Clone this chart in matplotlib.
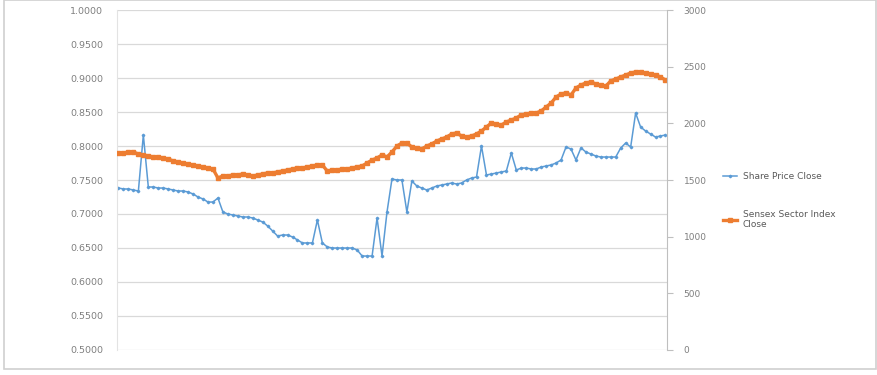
import numpy as np
import matplotlib.pyplot as plt
from matplotlib.patches import Rectangle

# share price close (left axis)
share_close = [
    0.7382, 0.7368, 0.7368, 0.7353, 0.7338, 0.8162, 0.7397, 0.7397, 0.7382, 0.7382,
    0.7368, 0.7353, 0.7338, 0.7338, 0.7324, 0.7294, 0.7250, 0.7221, 0.7176, 0.7176,
    0.7235, 0.7029, 0.7000, 0.6985, 0.6971, 0.6956, 0.6956, 0.6941, 0.6912, 0.6882,
    0.6824, 0.6750, 0.6676, 0.6691, 0.6691, 0.6662, 0.6618, 0.6574, 0.6574, 0.6574,
    0.6912, 0.6574, 0.6515, 0.6500, 0.6500, 0.6500, 0.6500, 0.6500, 0.6471, 0.6382,
    0.6382, 0.6382, 0.6941, 0.6382, 0.7029, 0.7515, 0.7500, 0.7500, 0.7029, 0.7485,
    0.7412, 0.7382, 0.7353, 0.7382, 0.7412, 0.7426, 0.7441, 0.7456, 0.7441, 0.7456,
    0.7500, 0.7529, 0.7544, 0.8000, 0.7574, 0.7588, 0.7603, 0.7618, 0.7632, 0.7897,
    0.7647, 0.7676, 0.7676, 0.7662, 0.7662, 0.7691, 0.7706, 0.7721, 0.7750, 0.7794,
    0.7985, 0.7956, 0.7794, 0.7971, 0.7912, 0.7882, 0.7853, 0.7838, 0.7838, 0.7838,
    0.7838, 0.7971, 0.8044, 0.7985, 0.8485, 0.8279, 0.8221, 0.8176, 0.8132, 0.8147,
    0.8162,
]

# sensex sector index close (right axis)
sensex_close = [
    1738, 1738, 1747, 1747, 1729, 1721, 1712, 1703, 1703, 1694,
    1685, 1668, 1659, 1650, 1641, 1632, 1624, 1615, 1606, 1597,
    1518, 1535, 1535, 1544, 1544, 1553, 1544, 1535, 1544, 1553,
    1562, 1562, 1571, 1579, 1588, 1597, 1606, 1606, 1615, 1624,
    1632, 1632, 1579, 1588, 1588, 1597, 1597, 1606, 1615, 1624,
    1650, 1676, 1694, 1721, 1703, 1747, 1800, 1826, 1826, 1791,
    1782, 1774, 1800, 1818, 1844, 1862, 1879, 1906, 1915, 1888,
    1879, 1888, 1906, 1932, 1968, 2003, 1994, 1985, 2012, 2029,
    2047, 2074, 2082, 2091, 2091, 2109, 2144, 2179, 2232, 2259,
    2268, 2250, 2312, 2338, 2356, 2365, 2347, 2338, 2329, 2374,
    2391, 2409, 2426, 2444, 2453, 2453, 2444, 2435, 2426, 2409,
    2382,
]

left_ticks = [1.0, 0.95, 0.9, 0.85, 0.8, 0.75, 0.7, 0.65, 0.6, 0.55, 0.5]
right_ticks = [0, 500, 1000, 1500, 2000, 2500, 3000]

blue = '#5b9bd5'
orange = '#ed7d31'
txt = '#7f7f7f'

fig = plt.figure(figsize=(8.77, 3.75), dpi=100)
fig.patches.append(Rectangle((0.004, 0.016), 0.995, 0.983, transform=fig.transFigure,
                             fill=False, edgecolor='#d0d0d0', linewidth=1.2))

ax = fig.add_axes([0.1334, 0.0667, 0.6271, 0.9066])
x = np.arange(len(share_close))
l1, = ax.plot(x, share_close, color=blue, lw=1.1, marker='D', ms=1.3,
              label='Share Price Close')
ax.set_ylim(0.5, 1.0)
ax.set_xlim(-0.3, len(x) - 0.7)
ax.set_yticks(left_ticks)
ax.set_yticklabels(['%.4f' % v for v in left_ticks])
ax.grid(axis='y', color='#d9d9d9', lw=0.9)
ax.set_axisbelow(True)
ax.set_xticks([])
ax.tick_params(axis='y', length=0, labelsize=6.8, labelcolor=txt, pad=10)
for s in ['top', 'right', 'bottom']:
    ax.spines[s].set_visible(False)
ax.spines['left'].set_color('#e3e3e3')

ax2 = ax.twinx()
l2, = ax2.plot(x, sensex_close, color=orange, lw=2.4, marker='s', ms=2.4,
               label='Sensex Sector Index\nClose')
ax2.set_ylim(0, 3000)
ax2.set_yticks(right_ticks)
ax2.tick_params(axis='y', length=4, color='#bfbfbf', labelsize=6.5,
                labelcolor=txt, pad=8)
for s in ['top', 'left', 'bottom']:
    ax2.spines[s].set_visible(False)
ax2.spines['right'].set_color('#bfbfbf')

fig.legend(handles=[l1, l2], loc='center left', bbox_to_anchor=(0.815, 0.465),
           frameon=False, fontsize=6.5, labelcolor='#595959', handlelength=1.6,
           labelspacing=3.2, handletextpad=0.6)

fig.savefig('out.png', dpi=100)
